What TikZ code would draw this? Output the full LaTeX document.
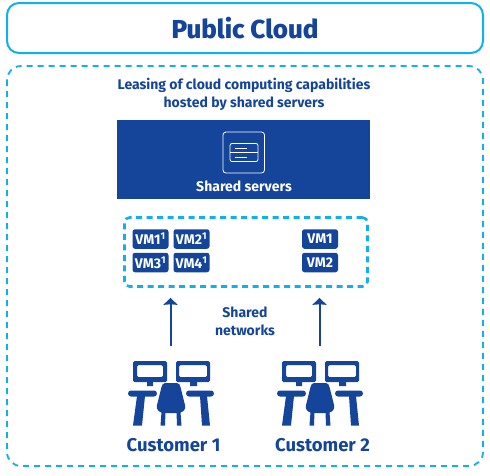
\documentclass[tikz,border=0pt]{standalone}
\usepackage{xcolor}
\usepackage{fontspec}
\setmainfont{Fira Sans}
\newfontfamily\titlefont{Fira Sans ExtraBold}
\definecolor{cNavy}{HTML}{14459A}
\definecolor{cSky}{HTML}{0FB1EC}
\usetikzlibrary{positioning,arrows.meta,calc}
\tikzset{
  node-title/.style={draw=cSky,line width=2pt,rounded corners=12pt,text=cNavy,
    minimum width=476pt,minimum height=50pt,align=center,font=\fontsize{26}{28}\selectfont\titlefont},
  node-frame/.style={draw=cSky,line width=1.8pt,dash pattern=on 6pt off 5pt,rounded corners=14pt},
  node-group/.style={draw=cSky,line width=2.6pt,dash pattern=on 6pt off 4.5pt,rounded corners=5pt,
    minimum width=243pt,minimum height=69pt},
  node-server/.style={fill=cNavy,minimum width=253pt,minimum height=79pt},
  node-vm/.style={fill=cNavy,text=white,rounded corners=2.5pt,inner sep=0pt,
    minimum height=19.5pt,font=\fontsize{14}{14}\selectfont\bfseries},
  node-note/.style={text=cNavy,align=center,font=\fontsize{14}{18}\selectfont\bfseries},
  node-name/.style={text=cNavy,font=\fontsize{18.5}{20}\selectfont\bfseries},
  arrow/.style={-{Stealth[length=7pt,width=14pt,inset=0.5pt]},line width=2pt,draw=cNavy},
  workplace/.pic={
    \fill[cNavy,rounded corners=1.5pt,even odd rule] (-38,-26) rectangle (-4,-5) (-34,-22) rectangle (-8,-10);
    \fill[cNavy,rounded corners=1.5pt,even odd rule] (5,-26) rectangle (39,-5) (8,-22) rectangle (36,-10);
    \fill[cNavy] (-24,-5) rectangle (-18,-1) (19,-5) rectangle (26,-1);
    \fill[cNavy,rounded corners=3pt] (-43,3.5) rectangle (-14,9.5) (15,3.5) rectangle (43,9.5);
    \fill[cNavy] (-34,9) -- (-26,9) -- (-29,38.5) -- (-38,38.5) -- cycle;
    \fill[cNavy] (29,9) -- (36,9) -- (39,38.5) -- (31,38.5) -- cycle;
    \fill[cNavy] (-6,-4) .. controls (-8,-4) and (-9,-2) .. (-9.5,0)
      -- (-14,18) .. controls (-15,23) and (-12,25) .. (-8,26)
      -- (8,26) .. controls (12,25) and (15,23) .. (14,18)
      -- (9.5,0) .. controls (9,-2) and (8,-4) .. (6,-4) -- cycle;
    \fill[cNavy] (-9.5,25) -- (-5.5,25) -- (-6,38.5) -- (-10.5,38.5) -- cycle;
    \fill[cNavy] (5.5,25) -- (9.5,25) -- (10.5,38.5) -- (6,38.5) -- cycle;
  },
}
\begin{document}
\begin{tikzpicture}[x=1pt,y=-1pt]
  \useasboundingbox (0,0) rectangle (490,475);
  \node[node-title] (title) at (245,28) {Public Cloud};
  \draw[node-frame] (7,66) rectangle (483,466);
  \node[node-note] (lease) at (244,94) {Leasing of cloud computing capabilities\\hosted by shared servers};

  \node[node-server] (server) at (243.5,159.5) {};
  \draw[white,line width=.8pt,rounded corners=3pt] (223,132) rectangle (264.5,173);
  \draw[white,line width=.8pt,rounded corners=2pt] (230,143.5) rectangle (258,161.5);
  \draw[white,line width=.7pt] (230,152.5) -- (258,152.5) (235,148) -- (247,148) (235,157) -- (247,157);
  \node[text=white,font=\fontsize{14}{14}\selectfont\bfseries] (serverlabel) at (244,186) {Shared servers};

  \node[node-group] (vms) at (246,252) {};
  \node[node-vm,minimum width=36pt] (a1) at (150.5,239) {VM1\textsuperscript{1}};
  \node[node-vm,minimum width=36pt] (a2) at (191.5,239) {VM2\textsuperscript{1}};
  \node[node-vm,minimum width=36pt] (a3) at (150.5,262.5) {VM3\textsuperscript{1}};
  \node[node-vm,minimum width=36pt] (a4) at (191.5,262.5) {VM4\textsuperscript{1}};
  \node[node-vm,minimum width=36pt] (b1) at (320,239) {VM1};
  \node[node-vm,minimum width=36pt] (b2) at (320,262.5) {VM2};

  \node[node-note] (net) at (245,321) {Shared\\networks};

  \pic at (171,387) {workplace};
  \pic at (320,387) {workplace};
  \node[node-name] (cust1) at (173.5,445) {Customer 1};
  \node[node-name] (cust2) at (322.5,445) {Customer 2};

  \coordinate (up1) at (170.5,346);
  \coordinate (up2) at (319.5,346);
  \draw[arrow,shorten >=10pt] (up1) -- (up1 |- vms.south);
  \draw[arrow,shorten >=10pt] (up2) -- (up2 |- vms.south);
\end{tikzpicture}
\end{document}
